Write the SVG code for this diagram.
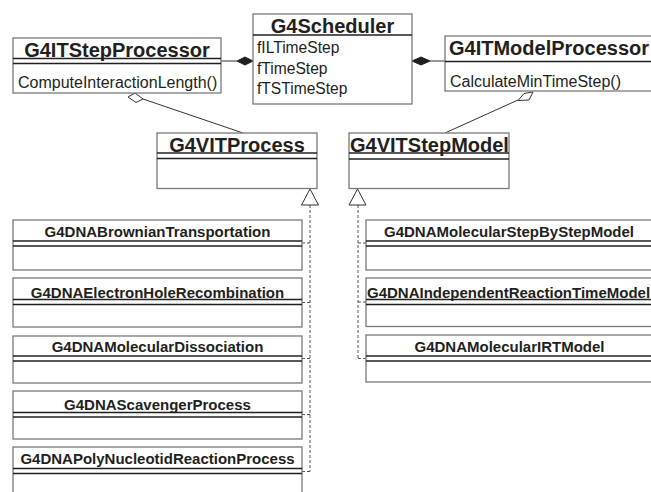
<svg xmlns="http://www.w3.org/2000/svg" width="651" height="492" viewBox="0 0 651 492">
<style>
.box{fill:#fff;stroke:#7a7a7a;stroke-width:1.3}
.sep{stroke:#231f20;stroke-width:1.3}
.t20{font-family:"Liberation Sans",Arial,sans-serif;font-weight:bold;font-size:20px;fill:#231f20}
.t15{font-family:"Liberation Sans",Arial,sans-serif;font-weight:bold;font-size:15px;fill:#231f20}
.m16{font-family:"Liberation Sans",Arial,sans-serif;font-size:16px;fill:#231f20}
.a15{font-family:"Liberation Sans",Arial,sans-serif;font-size:15.6px;fill:#231f20}
.ln{stroke:#333;stroke-width:1;fill:none}
.dash{stroke:#555;stroke-width:1;fill:none;stroke-dasharray:3 2}
.hd{fill:#fff;stroke:#333;stroke-width:1}
.fd{fill:#231f20;stroke:#231f20;stroke-width:1}
</style>
<rect width="651" height="492" fill="#fff"/>
<g id="connectors">
<line class="ln" x1="221" y1="61" x2="237" y2="61"/>
<polygon class="fd" points="237,61 245,57 253,61 245,65"/>
<line class="ln" x1="430" y1="61" x2="445" y2="61"/>
<polygon class="fd" points="412,61 421,57 430,61 421,65"/>
<line class="ln" x1="143" y1="99" x2="243" y2="133"/>
<polygon class="hd" points="128,97 135,93 143,99 136,102.5"/>
<line class="ln" x1="518" y1="100" x2="445" y2="133"/>
<polygon class="hd" points="518,100.5 524,93.5 533,92 529,100"/>
<polyline class="dash" points="310,205 310,471.5"/>
<line class="dash" x1="302" y1="243" x2="310" y2="243"/>
<line class="dash" x1="302" y1="302.5" x2="310" y2="302.5"/>
<line class="dash" x1="302" y1="358.5" x2="310" y2="358.5"/>
<line class="dash" x1="302" y1="414.5" x2="310" y2="414.5"/>
<line class="dash" x1="302" y1="471.5" x2="310" y2="471.5"/>
<polygon class="hd" points="310,189 301.5,205 318.5,205"/>
<polyline class="dash" points="358,205 358,358.5"/>
<line class="dash" x1="358" y1="243" x2="366" y2="243"/>
<line class="dash" x1="358" y1="302" x2="366" y2="302"/>
<line class="dash" x1="358" y1="358.5" x2="366" y2="358.5"/>
<polygon class="hd" points="357.5,189 349,205 366,205"/>
</g>
<g id="G4ITStepProcessor">
<rect class="box" x="13" y="38" width="208" height="55"/>
<text class="t20" x="117" y="57" text-anchor="middle">G4ITStepProcessor</text>
<line class="sep" x1="13" y1="58.5" x2="221" y2="58.5"/>
<line class="sep" x1="13" y1="63.5" x2="221" y2="63.5"/>
<text class="m16" x="18" y="87.5">ComputeInteractionLength()</text>
</g>
<g id="G4Scheduler">
<rect class="box" x="253" y="14" width="159" height="90"/>
<text class="t20" x="332.5" y="32.5" text-anchor="middle">G4Scheduler</text>
<line class="sep" x1="253" y1="35" x2="412" y2="35"/>
<text class="a15" x="257" y="53">fILTimeStep</text>
<text class="a15" x="257" y="73.5">fTimeStep</text>
<text class="a15" x="257" y="94">fTSTimeStep</text>
</g>
<g id="G4ITModelProcessor">
<rect class="box" x="445" y="36" width="215" height="55"/>
<text class="t20" x="449" y="55">G4ITModelProcessor</text>
<line class="sep" x1="445" y1="61.5" x2="660" y2="61.5"/>
<text class="m16" x="450" y="87">CalculateMinTimeStep()</text>
</g>
<g id="G4VITProcess">
<rect class="box" x="157" y="133" width="160" height="55.5"/>
<text class="t20" x="237" y="151.5" text-anchor="middle">G4VITProcess</text>
<line class="sep" x1="157" y1="153" x2="317" y2="153"/>
<line class="sep" x1="157" y1="158.5" x2="317" y2="158.5"/>
</g>
<g id="G4VITStepModel">
<rect class="box" x="349" y="133" width="160" height="55.5"/>
<text class="t20" x="350" y="151.5">G4VITStepModel</text>
<line class="sep" x1="349" y1="153" x2="509" y2="153"/>
<line class="sep" x1="349" y1="159" x2="509" y2="159"/>
</g>
<g id="G4DNABrownianTransportation">
<rect class="box" x="13" y="220" width="289" height="50"/>
<text class="t15" x="157.5" y="237" text-anchor="middle">G4DNABrownianTransportation</text>
<line class="sep" x1="13" y1="241" x2="302" y2="241"/>
<line class="sep" x1="13" y1="246" x2="302" y2="246"/>
</g>
<g id="G4DNAElectronHoleRecombination">
<rect class="box" x="13" y="278" width="289" height="49"/>
<text class="t15" x="157.5" y="298" text-anchor="middle">G4DNAElectronHoleRecombination</text>
<line class="sep" x1="13" y1="299.5" x2="302" y2="299.5"/>
<line class="sep" x1="13" y1="304.5" x2="302" y2="304.5"/>
</g>
<g id="G4DNAMolecularDissociation">
<rect class="box" x="13" y="336" width="289" height="47"/>
<text class="t15" x="157.5" y="352" text-anchor="middle">G4DNAMolecularDissociation</text>
<line class="sep" x1="13" y1="356" x2="302" y2="356"/>
<line class="sep" x1="13" y1="361" x2="302" y2="361"/>
</g>
<g id="G4DNAScavengerProcess">
<rect class="box" x="13" y="391" width="289" height="48"/>
<text class="t15" x="157.5" y="410" text-anchor="middle">G4DNAScavengerProcess</text>
<line class="sep" x1="13" y1="412.5" x2="302" y2="412.5"/>
<line class="sep" x1="13" y1="417" x2="302" y2="417"/>
</g>
<g id="G4DNAPolyNucleotidReactionProcess">
<rect class="box" x="13" y="447" width="289" height="60"/>
<text class="t15" x="157.5" y="464" text-anchor="middle">G4DNAPolyNucleotidReactionProcess</text>
<line class="sep" x1="13" y1="468.5" x2="302" y2="468.5"/>
<line class="sep" x1="13" y1="473.5" x2="302" y2="473.5"/>
</g>
<g id="G4DNAMolecularStepByStepModel">
<rect class="box" x="366" y="220" width="290" height="50"/>
<text class="t15" x="509" y="237" text-anchor="middle">G4DNAMolecularStepByStepModel</text>
<line class="sep" x1="366" y1="241" x2="656" y2="241"/>
<line class="sep" x1="366" y1="246" x2="656" y2="246"/>
</g>
<g id="G4DNAIndependentReactionTimeModel">
<rect class="box" x="366" y="278" width="290" height="48.5"/>
<text class="t15" x="367" y="298">G4DNAIndependentReactionTimeModel</text>
<line class="sep" x1="366" y1="299.5" x2="656" y2="299.5"/>
<line class="sep" x1="366" y1="304.5" x2="656" y2="304.5"/>
</g>
<g id="G4DNAMolecularIRTModel">
<rect class="box" x="366" y="335" width="290" height="47"/>
<text class="t15" x="509.5" y="352" text-anchor="middle">G4DNAMolecularIRTModel</text>
<line class="sep" x1="366" y1="356" x2="656" y2="356"/>
<line class="sep" x1="366" y1="361" x2="656" y2="361"/>
</g>
</svg>
